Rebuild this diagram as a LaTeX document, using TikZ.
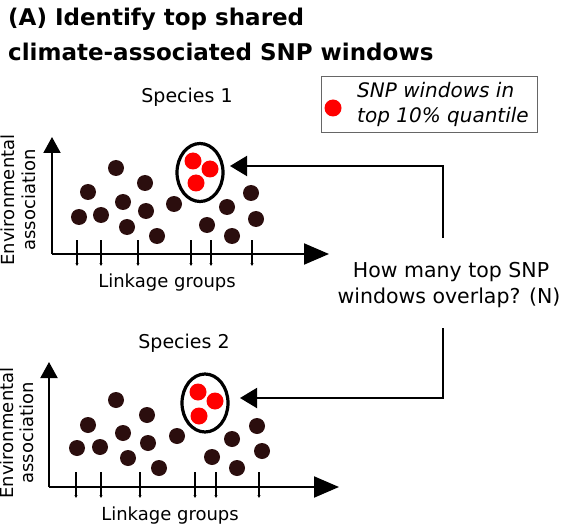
\documentclass[tikz,border=0pt]{standalone}
\usepackage{fontspec}
\setmainfont{DejaVu Sans}
\usetikzlibrary{arrows.meta,shapes.geometric}
\definecolor{dotbrown}{HTML}{2B0E0E}
\definecolor{dotred}{HTML}{FF0000}
\tikzset{
  dotb/.style={circle,fill=dotbrown,minimum size=16pt,inner sep=0pt},
  dotr/.style={circle,fill=dotred,minimum size=17pt,inner sep=0pt},
  grp/.style={ellipse,draw=black,line width=3.2pt,minimum width=46pt,minimum height=58pt,inner sep=0pt},
  xax/.style={line width=2pt,-{Triangle[length=25pt,width=21pt]}},
  yax/.style={line width=2pt,-{Triangle[length=16pt,width=17pt]}},
  tickmk/.style={line width=1.4pt,-{Triangle[length=3pt,width=3pt]}},
  conn/.style={line width=2pt,-{Triangle[length=17pt,width=20pt]}},
  lbl/.style={inner sep=0pt,anchor=base,font=\fontsize{18pt}{20pt}\selectfont},
  spc/.style={inner sep=0pt,anchor=base,font=\fontsize{19pt}{21pt}\selectfont},
  ttl/.style={inner sep=0pt,anchor=base west,font=\bfseries\fontsize{23pt}{26pt}\selectfont},
  legtxt/.style={inner sep=0pt,anchor=base west,font=\itshape\fontsize{20pt}{22pt}\selectfont},
  qtxt/.style={inner sep=0pt,anchor=base,font=\fontsize{20.5pt}{26pt}\selectfont},
}
\begin{document}
\begin{tikzpicture}[x=1pt,y=-1pt]
\useasboundingbox (0,0) rectangle (564,529);
% title
\node[ttl] (t1) at (8,26) {(A) Identify top shared};
\node[ttl] (t2) at (8,61) {climate-associated SNP windows};
% legend
\node[draw=black!60,line width=1pt,minimum width=216pt,minimum height=56pt,inner sep=0pt] (leg) at (429,105) {};
\node[dotr] (legdot) at (333,108) {};
\node[legtxt] (legt1) at (357,98) {SNP windows in};
\node[legtxt] (legt2) at (357,123) {top 10\% quantile};
% ---------- Species 1 ----------
\node[spc] (sp1) at (187,103) {Species 1};
\coordinate (o1) at (52,254);
\coordinate (y1) at (52,137);
\coordinate (x1) at (329,254);
\draw[yax] (o1) -- (y1);
\draw[xax] (o1) -- (x1);
\foreach \x [count=\i] in {77,101,138,191,211,252}{
  \coordinate (ta\i) at (\x,240);
  \coordinate (tb\i) at (\x,266);
  \draw[tickmk] (ta\i) -- (tb\i);
}
\node[lbl,rotate=90] (env1) at (14,200) {Environmental};
\node[lbl,rotate=90] (ass1) at (35,200) {association};
\node[lbl] (lk1) at (167,287) {Linkage groups};
\foreach \p [count=\i] in {(79,217),(88,192),(101,215),(116,168),(123,202),(127,227),(145,183),(146,211),(157,236),(174,204),(207,225),(227,207),(232,236),(251,193),(256,219)}{
  \node[dotb] (a\i) at \p {};
}
\node[dotr] (ar1) at (193,161) {};
\node[dotr] (ar2) at (210,169) {};
\node[dotr] (ar3) at (196,183) {};
\node[grp] (e1) at (200,172.5) {};
% ---------- Species 2 ----------
\node[spc] (sp2) at (184,348) {Species 2};
\coordinate (o2) at (49,487);
\coordinate (y2) at (49,362);
\coordinate (x2) at (339,487);
\draw[yax] (o2) -- (y2);
\draw[xax] (o2) -- (x2);
\foreach \x [count=\i] in {76,101,140,195,216,259}{
  \coordinate (tc\i) at (\x,472);
  \coordinate (td\i) at (\x,498);
  \draw[tickmk] (tc\i) -- (td\i);
}
\node[lbl,rotate=90] (env2) at (13,433) {Environmental};
\node[lbl,rotate=90] (ass2) at (33,433) {association};
\node[lbl] (lk2) at (170,520) {Linkage groups};
\foreach \p [count=\i] in {(77,448),(88,425),(100,447),(116,400),(123,433),(128,458),(147,415),(148,443),(159,468),(177,436),(212,457),(232,439),(237,468),(257,426),(262,451)}{
  \node[dotb] (b\i) at \p {};
}
\node[dotr] (br1) at (198,392) {};
\node[dotr] (br2) at (215,401) {};
\node[dotr] (br3) at (199,416) {};
\node[grp] (e2) at (205,403) {};
% ---------- question ----------
\node[qtxt] (q1) at (451,277) {How many top SNP};
\node[qtxt] (q2) at (449,303) {windows overlap? (N)};
\coordinate (qt) at (443,238);
\coordinate (qb) at (443,328);
\coordinate (tip1) at (230,166);
\coordinate (tip2) at (240,398);
\draw[conn] (qt) |- (tip1);
\draw[conn] (qb) |- (tip2);
\end{tikzpicture}
\end{document}
